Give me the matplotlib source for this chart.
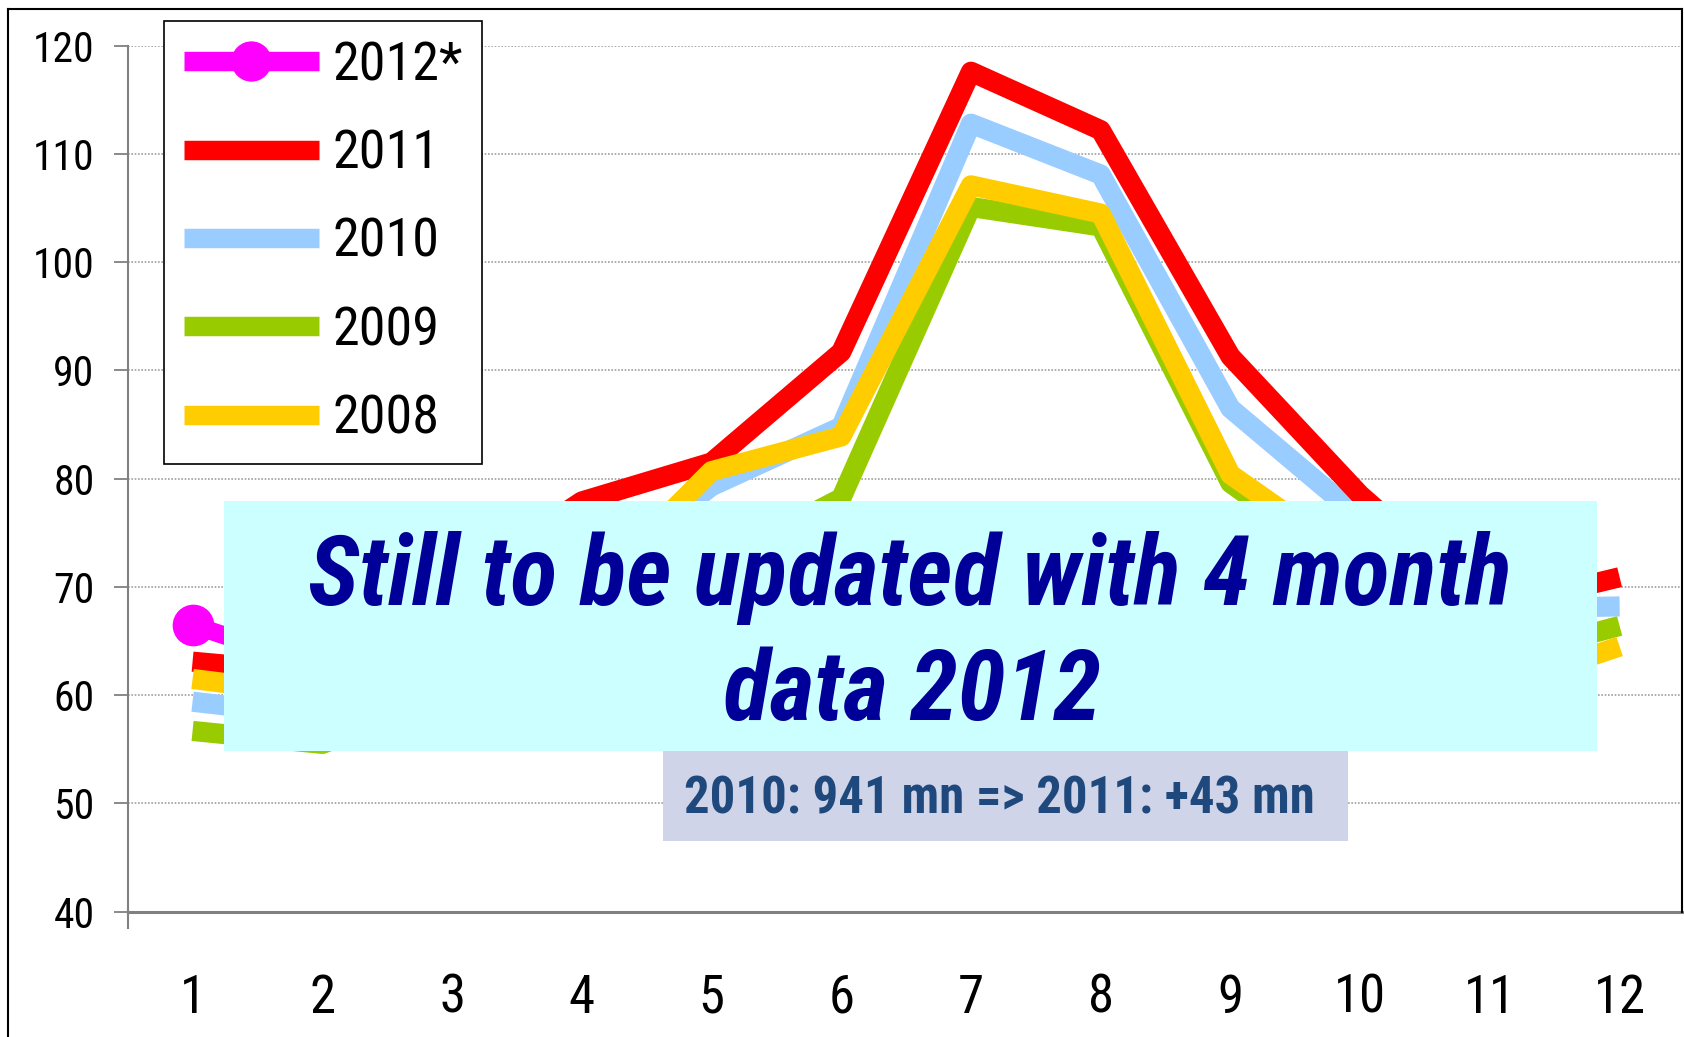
import matplotlib
matplotlib.use("Agg")
import matplotlib.pyplot as plt
from matplotlib import font_manager as fm
from matplotlib.patches import Rectangle
from matplotlib.lines import Line2D

# ---------------- data ----------------
months = [1, 2, 3, 4, 5, 6, 7, 8, 9, 10, 11, 12]
month_labels = ["1", "2", "3", "4", "5", "6", "7", "8", "9", "10", "11", "12"]
y_ticks = [40, 50, 60, 70, 80, 90, 100, 110, 120]

v2012 = [66.5, 62.5, 67.0]
v2011 = [63.1, 62.0, 70.0, 77.9, 81.5, 91.7, 117.6, 112.2, 91.3, 78.5, 68.0, 70.9]
v2010 = [59.4, 58.0, 64.0, 70.0, 79.3, 84.8, 112.8, 108.1, 86.5, 76.4, 68.0, 68.2]
v2009 = [56.7, 55.5, 60.0, 66.0, 72.0, 78.2, 105.1, 103.3, 79.6, 71.0, 63.2, 66.4]
v2008 = [61.5, 60.0, 63.0, 68.7, 80.7, 83.9, 107.1, 104.5, 80.4, 72.0, 60.5, 64.5]

legend_labels = ["2012*", "2011", "2010", "2009", "2008"]
box_line1 = "Still to be updated with 4 month"
box_line2 = "data 2012"
note_text = "2010: 941 mn => 2011: +43 mn"

# ---------------- fonts ----------------
def pick(names):
    for n in names:
        try:
            fm.findfont(fm.FontProperties(family=n), fallback_to_default=False)
            return n
        except Exception:
            pass
    return "DejaVu Sans"

NARROW = pick(["Liberation Sans Narrow", "Arial Narrow", "Roboto Condensed", "Liberation Sans"])
plt.rcParams['font.family'] = [NARROW, 'DejaVu Sans']

W, H = 1684, 1037
fig = plt.figure(figsize=(W / 100, H / 100), dpi=100)

def fx(px):
    return px / W

def fy(py):
    return 1 - py / H

ax_left, ax_right = 127.7, 1684.5
ax_top, ax_bot = 45.7, 911.7
ax = fig.add_axes([fx(ax_left), fy(ax_bot), (ax_right - ax_left) / W, (ax_bot - ax_top) / H])
ax.set_xlim(0.5, 12.5)
ax.set_ylim(40, 120)

lw = 14.5
common = dict(solid_joinstyle='round', solid_capstyle='butt')
ax.plot(months, v2009, color='#99CC00', lw=lw, zorder=3, **common)
ax.plot(months, v2010, color='#99CCFF', lw=lw, zorder=3.1, **common)
ax.plot(months, v2011, color='#FF0000', lw=lw, zorder=3.2, **common)
ax.plot(months, v2008, color='#FFCC00', lw=lw, zorder=3.3, **common)
ax.plot(months[:len(v2012)], v2012, color='#FF00FF', lw=13, marker='o', ms=29,
        zorder=3.4, **common)

# grid
ax.set_yticks(y_ticks)
ax.yaxis.grid(True, linestyle=(0, (1, 1)), color='#A0A0A0', lw=1.2)
ax.set_axisbelow(True)

for s in ['top', 'right']:
    ax.spines[s].set_visible(False)
ax.spines['left'].set_color('#808080')
ax.spines['left'].set_linewidth(1.5)
ax.spines['bottom'].set_color('#808080')
ax.spines['bottom'].set_linewidth(2.2)

ax.tick_params(axis='y', direction='out', length=9.9, width=1.3, color='#808080',
               labelsize=30, pad=14)
ax.set_xticks(months)
ax.set_xticklabels(month_labels)
ax.tick_params(axis='x', which='major', length=0, labelsize=38, pad=44)
ax.set_xticks([0.5], minor=True)
ax.tick_params(axis='x', which='minor', direction='out', length=12.5, width=1.5, color='#808080')

# legend
hk = dict(solid_capstyle='butt')
handles = [
    Line2D([], [], color='#FF00FF', lw=14, marker='o', ms=28, **hk),
    Line2D([], [], color='#FF0000', lw=14, **hk),
    Line2D([], [], color='#99CCFF', lw=14, **hk),
    Line2D([], [], color='#99CC00', lw=14, **hk),
    Line2D([], [], color='#FFCC00', lw=14, **hk),
]
leg = fig.legend(handles, legend_labels, loc='upper left',
                 bbox_to_anchor=(fx(164), fy(20.7)), bbox_transform=fig.transFigure,
                 fontsize=39, frameon=True, fancybox=False, edgecolor='black',
                 handlelength=2.5, handletextpad=0.25, labelspacing=0.69,
                 borderpad=0.36, borderaxespad=0, framealpha=1)
leg.get_frame().set_linewidth(1.2)

# outer border
fig.add_artist(Line2D([fx(8), fx(8)], [fy(9), 0], color='black', lw=1.5))
fig.add_artist(Line2D([fx(8), fx(1682)], [fy(9), fy(9)], color='black', lw=1.5))
fig.add_artist(Line2D([fx(1682), fx(1682)], [fy(9), fy(912)], color='black', lw=1.5))

# note box (below)
fig.add_artist(Rectangle((fx(663), fy(841)), (1348 - 663) / W, (841 - 751) / H,
                         transform=fig.transFigure, facecolor='#D0D4E8',
                         edgecolor='none', zorder=5))
fig.text(fx(684), fy(813), note_text, fontsize=36.5, fontweight='bold',
         color='#1F497D', ha='left', va='baseline', zorder=6)

# main overlay box
fig.add_artist(Rectangle((fx(224), fy(751)), (1597 - 224) / W, (751 - 501) / H,
                         transform=fig.transFigure, facecolor='#CCFFFF',
                         edgecolor='none', zorder=7))
fig.text(fx(910), fy(605), box_line1, fontsize=70,
         fontweight='bold', fontstyle='italic', color='#000099',
         ha='center', va='baseline', zorder=8)
fig.text(fx(912), fy(720), box_line2, fontsize=70,
         fontweight='bold', fontstyle='italic', color='#000099',
         ha='center', va='baseline', zorder=8)

fig.savefig("out.png", dpi=100)
